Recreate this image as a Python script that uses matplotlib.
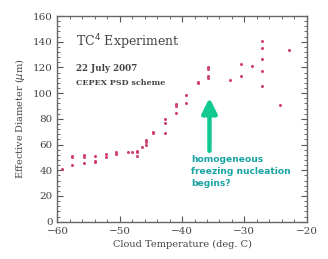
import matplotlib.pyplot as plt
from matplotlib.ticker import MultipleLocator

# cloud temperature (deg C) and effective diameter (um)
temp = [-59.3, -57.6, -57.6, -57.6, -55.8, -55.8, -55.8, -54.0, -54.0, -54.0,
        -52.2, -52.2, -50.6, -50.6, -48.7, -48.1, -47.3, -47.3, -47.3, -46.5,
        -45.8, -45.8, -45.8, -44.6, -44.6, -42.8, -42.8, -42.8, -41.0, -41.0,
        -41.0, -39.3, -39.3, -37.5, -37.5, -35.8, -35.8, -35.8, -35.8, -32.3,
        -30.6, -30.6, -28.7, -27.2, -27.2, -27.2, -27.2, -27.2, -24.3, -22.8]
diam = [41, 50, 51, 44.5, 52, 50.6, 45.4, 51.4, 47.5, 46.2,
        52.4, 50, 54, 52.7, 54, 54.5, 55.2, 54, 51.4, 58.5,
        63.6, 61.8, 59.7, 68.8, 69.6, 79.7, 76.6, 68.8, 91.6, 90.3,
        84.4, 98.6, 92.1, 109, 107.7, 120.2, 118.6, 113.4, 111.6, 110.3,
        122.5, 113.6, 121.2, 140.9, 134.9, 126.6, 117.3, 105.8, 90.8, 133.6]

serif = 'DejaVu Serif'
fig = plt.figure(figsize=(3.28, 2.59), dpi=100)
ax = fig.add_axes([0.175, 0.144, 0.76, 0.794])

ax.plot(temp, diam, 'o', ms=2.2, color='#d2406e', mec='none')

ax.set_xlim(-60, -20)
ax.set_ylim(0, 160)
ax.xaxis.set_major_locator(MultipleLocator(10))
ax.xaxis.set_minor_locator(MultipleLocator(2))
ax.yaxis.set_major_locator(MultipleLocator(20))
ax.yaxis.set_minor_locator(MultipleLocator(4))
ax.tick_params(which='both', direction='in', top=True, right=True,
               color='#555555', labelsize=7.5, labelcolor='#444444')
ax.tick_params(which='major', length=4, width=0.8)
ax.tick_params(which='minor', length=2, width=0.6)
for lab in ax.get_xticklabels() + ax.get_yticklabels():
    lab.set_family(serif)
for s in ax.spines.values():
    s.set_color('#666666')
    s.set_linewidth(1.0)

ax.set_xlabel('Cloud Temperature (deg. C)', family=serif, fontsize=7,
              color='#444444', labelpad=3)
ax.set_ylabel('Effective Diameter ($\\mu$m)', family=serif, fontsize=7,
              color='#444444', labelpad=4)

ax.text(-57.0, 140, 'TC$^4$ Experiment', family=serif, fontsize=9,
        color='#444444', va='center')
ax.text(-57.0, 119.5, '22 July 2007', family=serif, fontsize=6.3,
        color='#444444', va='center', fontweight='bold')
ax.text(-57.0, 108, 'CEPEX PSD scheme', family=serif, fontsize=5.8,
        color='#444444', va='center', fontweight='bold')

ax.annotate('', xy=(-35.6, 98.5), xytext=(-35.6, 53),
            arrowprops=dict(arrowstyle='-|>,head_width=0.45,head_length=0.9',
                            lw=3.2, color='#10c890', mutation_scale=10))
ax.text(-38.6, 52, 'homogeneous\nfreezing nucleation\nbegins?', ha='left',
        va='top', fontsize=6.6, fontweight='bold', color='#1aa3a3',
        family='DejaVu Sans', linespacing=1.45)

fig.savefig('out.png', dpi=100)
